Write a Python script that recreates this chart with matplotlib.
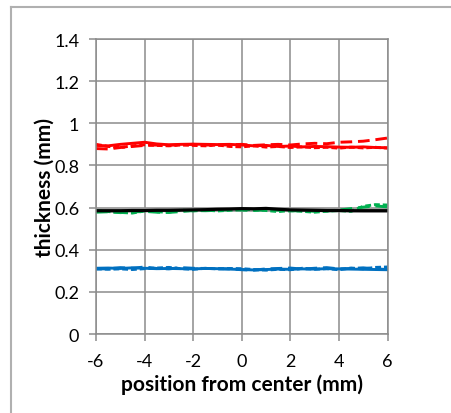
import numpy as np
import matplotlib
matplotlib.use("Agg")
import matplotlib.pyplot as plt
from matplotlib.lines import Line2D

plt.rcParams['font.family'] = ['Lato', 'DejaVu Sans']

x = np.arange(-6, 6.01, 0.5)

red_solid = [0.895,0.893,0.900,0.905,0.910,0.902,0.898,0.900,0.901,0.900,0.899,0.900,0.897,
             0.893,0.895,0.890,0.892,0.888,0.890,0.889,0.887,0.886,0.888,0.885,0.884]
red_dashed = [0.880,0.878,0.885,0.890,0.895,0.897,0.896,0.898,0.900,0.897,0.896,0.898,0.900,
              0.895,0.898,0.900,0.897,0.902,0.905,0.903,0.910,0.912,0.915,0.922,0.930]
red_dotted = [0.900,0.890,0.885,0.893,0.898,0.895,0.893,0.897,0.895,0.893,0.897,0.890,0.888,
              0.893,0.887,0.890,0.885,0.888,0.884,0.886,0.882,0.887,0.883,0.886,0.882]

green_dashed = [0.578,0.580,0.576,0.579,0.582,0.578,0.577,0.581,0.586,0.585,0.587,0.590,0.588,
                0.586,0.590,0.588,0.584,0.586,0.582,0.584,0.588,0.595,0.602,0.608,0.603]
green_dotted = [0.585,0.581,0.577,0.574,0.584,0.580,0.578,0.588,0.584,0.588,0.584,0.587,0.592,
                0.590,0.586,0.581,0.586,0.582,0.578,0.583,0.586,0.582,0.606,0.614,0.612]
gray_solid = [0.587,0.587,0.587,0.588,0.588,0.588,0.589,0.589,0.589,0.590,0.590,0.590,0.590,
              0.590,0.590,0.590,0.589,0.589,0.589,0.588,0.588,0.588,0.587,0.587,0.587]
black_solid = [0.585,0.585,0.585,0.586,0.586,0.587,0.587,0.588,0.589,0.590,0.592,0.593,0.595,
               0.594,0.596,0.592,0.589,0.588,0.587,0.586,0.586,0.585,0.585,0.585,0.585]

blue_solid = [0.312,0.313,0.311,0.314,0.312,0.310,0.311,0.310,0.309,0.311,0.310,0.308,0.306,
              0.304,0.306,0.308,0.307,0.309,0.308,0.310,0.309,0.308,0.307,0.306,0.305]
blue_dashed = [0.308,0.310,0.315,0.312,0.318,0.311,0.309,0.315,0.312,0.311,0.310,0.309,0.305,
               0.303,0.309,0.311,0.313,0.308,0.312,0.315,0.309,0.311,0.314,0.309,0.306]
blue_dotted = [0.310,0.307,0.309,0.306,0.310,0.313,0.316,0.310,0.307,0.312,0.309,0.311,0.310,
               0.306,0.303,0.307,0.305,0.312,0.307,0.310,0.305,0.313,0.309,0.316,0.318]

xticks = [-6, -4, -2, 0, 2, 4, 6]
yticks = [0, 0.2, 0.4, 0.6, 0.8, 1.0, 1.2, 1.4]
ytick_labels = ['0', '0.2', '0.4', '0.6', '0.8', '1', '1.2', '1.4']

fig = plt.figure(figsize=(4.51, 4.14), dpi=100)
ax = fig.add_axes([96/451, 1-335/414, (387.5-96)/451, (335-40)/414])

RED, GREEN, BLUE = '#ff0000', '#00b050', '#0070c0'
lw = 2.1
ax.plot(x, red_dotted, color=RED, lw=lw, ls=(0, (2, 1)))
ax.plot(x, red_dashed, color=RED, lw=lw, ls=(0, (4, 2)))
ax.plot(x, red_solid, color=RED, lw=lw)

ax.plot(x, gray_solid, color='#a0a0a0', lw=3.2)
ax.plot(x, green_dotted, color=GREEN, lw=lw, ls=(0, (2, 1)))
ax.plot(x, green_dashed, color=GREEN, lw=lw, ls=(0, (4, 2)))
ax.plot(x, black_solid, color='black', lw=2.3)

ax.plot(x, blue_dotted, color=BLUE, lw=lw, ls=(0, (2, 1)))
ax.plot(x, blue_dashed, color=BLUE, lw=lw, ls=(0, (4, 2)))
ax.plot(x, blue_solid, color=BLUE, lw=lw)

ax.set_xlim(-6, 6)
ax.set_ylim(0, 1.4)
ax.set_xticks(xticks)
ax.set_xticklabels([str(t) for t in xticks])
ax.set_yticks(yticks)
ax.set_yticklabels(ytick_labels)
gc = '#8c8c8c'
ax.grid(True, color=gc, lw=1.1)
ax.set_axisbelow(True)
for s in ax.spines.values():
    s.set_color(gc)
    s.set_linewidth(1.1)
ax.tick_params(axis='both', colors=gc, length=5, width=1.1, labelcolor='black', labelsize=13)
ax.tick_params(axis='y', pad=7)
ax.tick_params(axis='x', pad=9)

ax.set_xlabel('position from center (mm)', fontsize=15, fontweight='bold', labelpad=3)
ax.set_ylabel('thickness (mm)', fontsize=15, fontweight='bold', labelpad=0)

fig.add_artist(Line2D([11/451, 11/451], [0, 1-8/414], color='#b0b0b0', lw=1.5))
fig.add_artist(Line2D([11/451, 1], [1-8/414, 1-8/414], color='#b0b0b0', lw=1.5))

fig.savefig('out.png', dpi=100)
